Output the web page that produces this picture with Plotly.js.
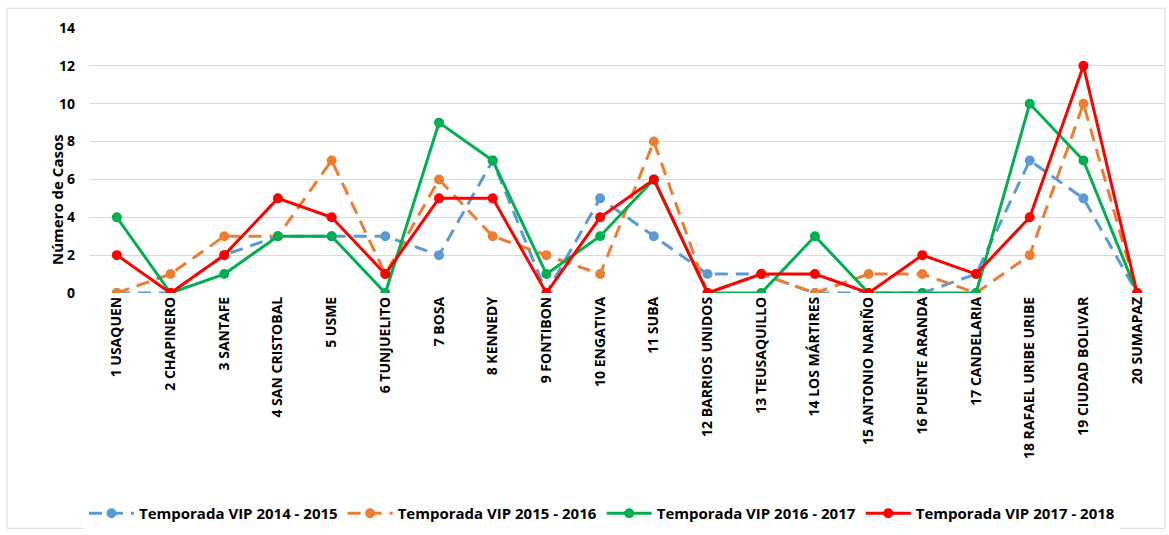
<!DOCTYPE html>
<html>
<head>
<meta charset="utf-8">
<script src="https://cdn.plot.ly/plotly-3.0.1.min.js"></script>
<style>html,body{margin:0;padding:0;background:#fff}#chart{width:1169px;height:535px}</style>
</head>
<body>
<div id="chart"></div>
<script>
const categories = ["1 USAQUEN","2 CHAPINERO","3 SANTAFE","4 SAN CRISTOBAL","5 USME","6 TUNJUELITO","7 BOSA","8 KENNEDY","9 FONTIBON","10 ENGATIVA","11 SUBA","12 BARRIOS UNIDOS","13 TEUSAQUILLO","14 LOS MÁRTIRES","15 ANTONIO NARIÑO","16 PUENTE ARANDA","17 CANDELARIA","18 RAFAEL URIBE URIBE","19 CIUDAD BOLIVAR","20 SUMAPAZ"];
const seriesNames = ["Temporada VIP 2014 - 2015","Temporada VIP 2015 - 2016","Temporada VIP 2016 - 2017","Temporada VIP 2017 - 2018"];
const vip2014 = [0,0,2,3,3,3,2,7,0,5,3,1,1,0,0,0,1,7,5,0];
const vip2015 = [0,1,3,3,7,1,6,3,2,1,8,0,1,0,1,1,0,2,10,0];
const vip2016 = [4,0,1,3,3,0,9,7,1,3,6,0,0,3,0,0,0,10,7,0];
const vip2017 = [2,0,2,5,4,1,5,5,0,4,6,0,1,1,0,2,1,4,12,0];
const yTicks = [0,2,4,6,8,10,12,14];

const colors = ["#5B9BD5","#ED7D31","#00B050","#FF0000"];
const dashes = ["13px,8px","13px,8px","solid","solid"];
const data = [vip2014, vip2015, vip2016, vip2017].map((vals, i) => ({
  type: "scatter", mode: "lines+markers",
  x: categories, y: vals, name: seriesNames[i],
  line: {color: colors[i], width: 3, dash: dashes[i]},
  marker: {color: colors[i], size: 10}
}));

const font = "Open Sans, Liberation Sans, sans-serif";
const layout = {
  width: 1169, height: 535,
  margin: {l: 90, r: 5, t: 28, b: 239},
  paper_bgcolor: "#fff", plot_bgcolor: "#fff",
  showlegend: true,
  legend: {orientation: "h", x: (602 - 90) / 1074, xanchor: "center", y: -0.832, yanchor: "middle",
           font: {family: font, size: 15, color: "#000", weight: "bold"}, itemwidth: 45, traceorder: "normal"},
  xaxis: {type: "category", range: [-0.5, 19.5], tickangle: -90, showgrid: false, zeroline: false,
          showline: false, ticks: "", tickfont: {family: font, size: 14, color: "#000", weight: "bold"}, automargin: false},
  yaxis: {range: [0, 14], tickvals: yTicks, ticktext: yTicks.map(String), showgrid: true, gridcolor: "#d9d9d9", gridwidth: 1,
          zeroline: false, showline: false, ticks: "", ticklabelstandoff: 14,
          tickfont: {family: font, size: 14, color: "#000", weight: "bold"}, automargin: false},
  annotations: [{text: "Número de Casos", textangle: -90, xref: "paper", yref: "paper",
                 x: (45 - 90) / 1074, y: (296 - 202) / 268, showarrow: false,
                 font: {family: font, size: 15, color: "#000", weight: "bold"}}],
  shapes: [{type: "rect", xref: "paper", yref: "paper", x0: (7 - 90) / 1074, x1: (1165 - 90) / 1074,
            y0: (296 - 534) / 268, y1: (296 - 8) / 268, line: {color: "#d9d9d9", width: 1}, layer: "below"}]
};
Plotly.newPlot("chart", data, layout, {displayModeBar: false, staticPlot: true});
</script>
</body>
</html>
